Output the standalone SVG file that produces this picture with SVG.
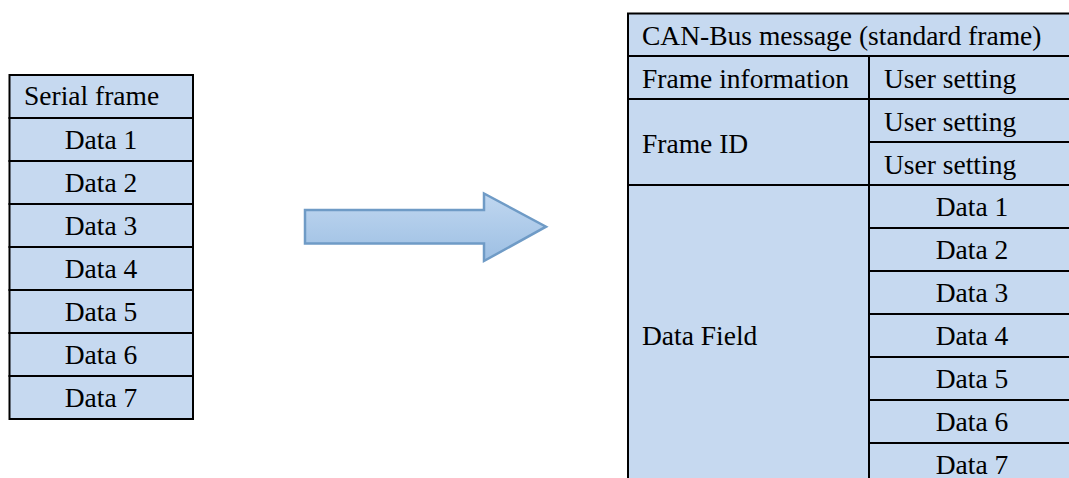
<svg xmlns="http://www.w3.org/2000/svg" width="1069" height="478" viewBox="0 0 1069 478">
<defs>
<linearGradient id="ag" x1="0" y1="0" x2="0" y2="1">
<stop offset="0" stop-color="#c0d7f0"/>
<stop offset="1" stop-color="#9dbfe3"/>
</linearGradient>
</defs>
<style>
.c{fill:#c6d9f0;stroke:#000;stroke-width:2}
.t{font-family:"Liberation Serif","Times New Roman",serif;font-size:27.5px;fill:#000}
.m{text-anchor:middle}
</style>
<rect width="1069" height="478" fill="#fff"/>
<g id="serial-frame">
<rect class="c" x="9.5" y="75" width="183.5" height="43"/>
<text class="t" x="24" y="105">Serial frame</text>
<rect class="c" x="9.5" y="118" width="183.5" height="43"/>
<text class="t m" x="101" y="149">Data 1</text>
<rect class="c" x="9.5" y="161" width="183.5" height="43"/>
<text class="t m" x="101" y="192">Data 2</text>
<rect class="c" x="9.5" y="204" width="183.5" height="43"/>
<text class="t m" x="101" y="235">Data 3</text>
<rect class="c" x="9.5" y="247" width="183.5" height="43"/>
<text class="t m" x="101" y="278">Data 4</text>
<rect class="c" x="9.5" y="290" width="183.5" height="43"/>
<text class="t m" x="101" y="321">Data 5</text>
<rect class="c" x="9.5" y="333" width="183.5" height="43"/>
<text class="t m" x="101" y="364">Data 6</text>
<rect class="c" x="9.5" y="376" width="183.5" height="43"/>
<text class="t m" x="101" y="407">Data 7</text>
</g>
<g id="connectors">
<path d="M305,210 H484 V193.5 L546,226.7 L484,261 V243.5 H305 Z" fill="url(#ag)" stroke="#6f9bc6" stroke-width="2.5" stroke-linejoin="miter"/>
</g>
<g id="can-message">
<rect class="c" x="628" y="13.5" width="447" height="42.5"/>
<text class="t" x="642" y="45">CAN-Bus message (standard frame)</text>
<rect class="c" x="628" y="56" width="241" height="43"/>
<text class="t" x="642" y="88">Frame information</text>
<rect class="c" x="869" y="56" width="206" height="43"/>
<text class="t" x="884" y="88">User setting</text>
<rect class="c" x="628" y="99" width="241" height="86"/>
<text class="t" x="642" y="153">Frame ID</text>
<rect class="c" x="869" y="99" width="206" height="43"/>
<text class="t" x="884" y="131">User setting</text>
<rect class="c" x="869" y="142" width="206" height="43"/>
<text class="t" x="884" y="174">User setting</text>
<rect class="c" x="628" y="185" width="241" height="301"/>
<text class="t" x="642" y="345">Data Field</text>
<rect class="c" x="869" y="185" width="206" height="43"/>
<text class="t m" x="972" y="216">Data 1</text>
<rect class="c" x="869" y="228" width="206" height="43"/>
<text class="t m" x="972" y="259">Data 2</text>
<rect class="c" x="869" y="271" width="206" height="43"/>
<text class="t m" x="972" y="302">Data 3</text>
<rect class="c" x="869" y="314" width="206" height="43"/>
<text class="t m" x="972" y="345">Data 4</text>
<rect class="c" x="869" y="357" width="206" height="43"/>
<text class="t m" x="972" y="388">Data 5</text>
<rect class="c" x="869" y="400" width="206" height="43"/>
<text class="t m" x="972" y="431">Data 6</text>
<rect class="c" x="869" y="443" width="206" height="43"/>
<text class="t m" x="972" y="474">Data 7</text>
</g>
</svg>
